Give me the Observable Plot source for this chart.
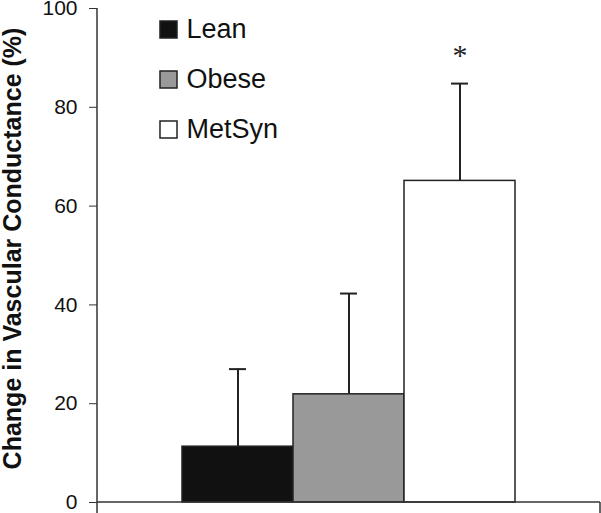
<!DOCTYPE html>
<html><head><meta charset="utf-8">
<script src="https://cdn.jsdelivr.net/npm/d3@7"></script>
<script src="https://cdn.jsdelivr.net/npm/@observablehq/plot@0.6"></script>
<style>body{margin:0;background:#fff}</style>
</head><body><div id="chart"></div>
<script>
const groups = ["Lean", "Obese", "MetSyn"];
const means = [11.3, 21.9, 65.1];
const upperSD = [27.0, 42.3, 84.8];
const sig = ["", "", "*"];
const colors = ["#111111", "#999999", "#ffffff"];
const yTicks = [0, 20, 40, 60, 80, 100];
const yLabel = "Change in Vascular Conductance (%)";

const data = groups.map((g, i) => ({group: g, mean: means[i], upper: upperSD[i], sig: sig[i]}));

const axisLines = (index, scales, values, dims) => {
  const g = d3.create("svg:g").attr("stroke", "#333").attr("stroke-width", 1.5).attr("fill", "none");
  const x0 = dims.marginLeft, x1 = dims.width - dims.marginRight;
  const y0 = scales.y(0), yTop = scales.y(100);
  g.append("line").attr("x1", x0).attr("x2", x0).attr("y1", yTop).attr("y2", dims.height);
  g.append("line").attr("x1", x0).attr("x2", x1).attr("y1", y0).attr("y2", y0);
  g.append("line").attr("x1", x1).attr("x2", x1).attr("y1", y0).attr("y2", dims.height);
  return g.node();
};

const legendMarks = groups.flatMap((g, i) => [
  Plot.dot([g], {frameAnchor: "top-left", dx: 71, dy: 21 + i * 50, symbol: "square", r: 9.6,
    fill: colors[i], stroke: "#222", strokeWidth: 1.5}),
  Plot.text([g], {frameAnchor: "top-left", dx: 89, dy: 21 + i * 50, text: d => d,
    textAnchor: "start", lineAnchor: "middle", fontSize: 27, fill: "#111"})
]);

const chart = Plot.plot({
  width: 601,
  height: 513,
  marginLeft: 97,
  marginRight: 1,
  marginTop: 8,
  marginBottom: 11,
  style: {fontFamily: "'Liberation Sans', Arial, sans-serif", color: "#222", background: "#fff"},
  x: {type: "band", domain: groups, paddingInner: 0, paddingOuter: 0.755, axis: null},
  y: {domain: [0, 100]},
  color: {domain: groups, range: colors},
  marks: [
    Plot.axisY({ticks: yTicks, tickSize: 8, tickPadding: 12, fontSize: 21, label: null, stroke: "#333", fill: "#111"}),
    Plot.ruleX(data, {x: "group", y1: "mean", y2: "upper", stroke: "#222", strokeWidth: 2}),
    Plot.tickY(data, {x: "group", y: "upper", insetLeft: 47, insetRight: 47, stroke: "#222", strokeWidth: 2}),
    Plot.barY(data, {x: "group", y: "mean", fill: "group", stroke: "#222", strokeWidth: 1.5}),
    Plot.text(data, {x: "group", y: "upper", text: "sig", dy: -28, fontSize: 30,
      fontFamily: "'Liberation Serif', 'Times New Roman', serif", fill: "#222"}),
    axisLines,
    ...legendMarks,
    Plot.text([yLabel], {frameAnchor: "left", text: d => d, rotate: -90, dx: -85, dy: -7,
      textAnchor: "middle", lineAnchor: "middle", fontSize: 25, fontWeight: "bold", fill: "#111"})
  ]
});
document.getElementById("chart").append(chart);
</script>
</body></html>
